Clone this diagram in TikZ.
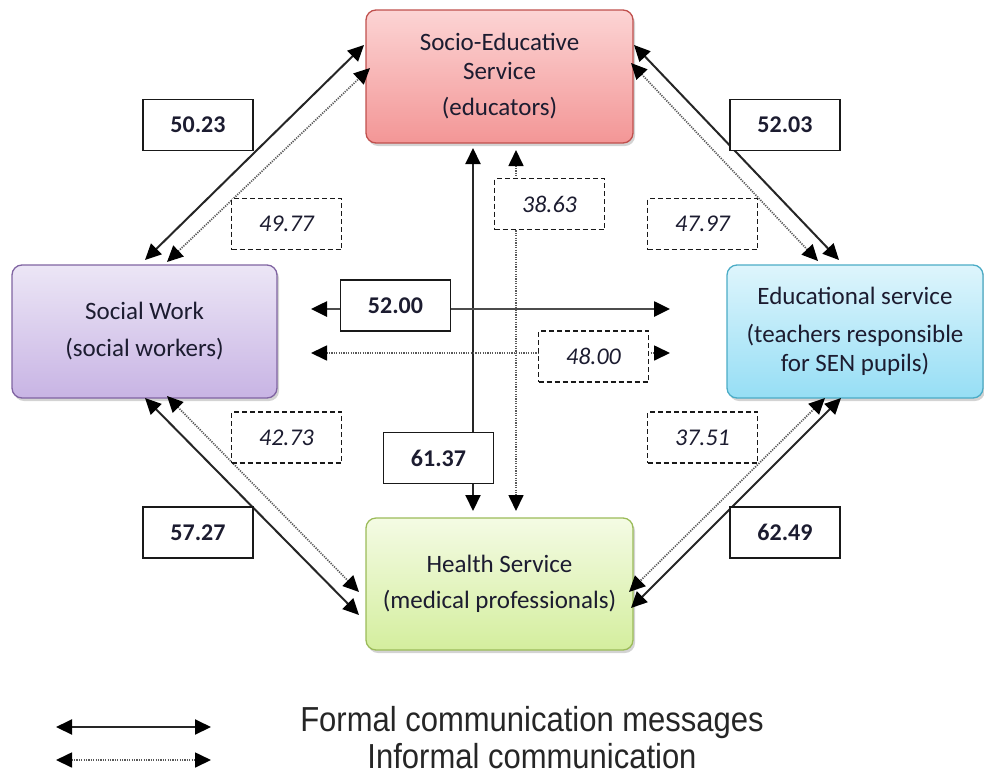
\documentclass[tikz,border=0pt]{standalone}
\usepackage{fontspec}
\setmainfont{Carlito}
\newfontfamily\arialfont{Liberation Sans}
\usetikzlibrary{arrows.meta,shadows}
\definecolor{txt}{RGB}{28,28,48}
\tikzset{
  svc/.style={rounded corners=10pt, line width=1.3pt, minimum width=267pt, minimum height=133pt,
    inner sep=0pt, align=center, text=txt, font=\fontsize{25}{29}\selectfont,
    drop shadow={opacity=0.35, shadow xshift=2pt, shadow yshift=-3pt}},
  lab/.style={draw=black!90, line width=1.3pt, fill=white, minimum width=110pt, minimum height=51pt,
    inner sep=0pt, text=txt, font=\fontsize{24}{28}\selectfont\bfseries},
  dlab/.style={lab, dash pattern=on 5pt off 3pt, font=\fontsize{24}{28}\selectfont\itshape},
  formal/.style={{Triangle[length=16pt,width=15pt,color=black]}-{Triangle[length=16pt,width=15pt,color=black]}, line width=2pt, draw=black!85},
  informal/.style={{Triangle[length=16pt,width=15pt,color=black]}-{Triangle[length=16pt,width=15pt,color=black]}, line width=1.7pt, draw=black!65, dash pattern=on 1.2pt off 1.2pt}
}
\begin{document}
\begin{tikzpicture}[x=1pt,y=-1pt]
\useasboundingbox (0,0) rectangle (984,774);

% service boxes
\node[svc, draw={rgb,255:red,192;green,80;blue,77}, top color={rgb,255:red,252;green,212;blue,212}, bottom color={rgb,255:red,243;green,150;blue,150}] (se) at (499.5,76.5)
  {Socio-Educative\\Service\\[7pt](educators)};
\node[svc, minimum width=265pt, draw={rgb,255:red,128;green,100;blue,162}, top color={rgb,255:red,236;green,230;blue,246}, bottom color={rgb,255:red,200;green,180;blue,228}] (sw) at (144.5,331.5)
  {Social Work\\[8pt](social workers)};
\node[svc, minimum width=256pt, draw={rgb,255:red,75;green,172;blue,198}, top color={rgb,255:red,222;green,245;blue,252}, bottom color={rgb,255:red,150;green,222;blue,245}] (ed) at (855,331.5)
  {Educational service\\[9pt](teachers responsible\\for SEN pupils)};
\node[svc, minimum height=132pt, draw={rgb,255:red,155;green,187;blue,89}, top color={rgb,255:red,244;green,251;blue,228}, bottom color={rgb,255:red,212;green,238;blue,158}] (hs) at (499.5,584)
  {Health Service\\[7pt](medical professionals)};

% connector end points
\coordinate (a1) at (145,260); \coordinate (a2) at (364,45);
\coordinate (b1) at (167,262); \coordinate (b2) at (370,68);
\coordinate (c1) at (634,45); \coordinate (c2) at (839,260);
\coordinate (d1) at (631,63); \coordinate (d2) at (818,261);
\coordinate (e1) at (145,398); \coordinate (e2) at (359,615);
\coordinate (f1) at (167,396); \coordinate (f2) at (359,592);
\coordinate (g1) at (841,398); \coordinate (g2) at (631,608);
\coordinate (h1) at (825,398); \coordinate (h2) at (629,592);
\coordinate (v1) at (473,148); \coordinate (v2) at (473,511);
\coordinate (w1) at (516,150); \coordinate (w2) at (516,511);
\coordinate (p1) at (311,309); \coordinate (p2) at (670,309);
\coordinate (q1) at (311,353); \coordinate (q2) at (670,353);

\draw[formal] (a1) -- (a2);
\draw[informal] (b1) -- (b2);
\draw[formal] (c1) -- (c2);
\draw[informal] (d1) -- (d2);
\draw[formal] (e1) -- (e2);
\draw[informal] (f1) -- (f2);
\draw[formal] (g1) -- (g2);
\draw[informal] (h1) -- (h2);
\draw[formal] (v1) -- (v2);
\draw[informal] (w1) -- (w2);
\draw[formal, draw=black!70, line width=2.6pt] (p1) -- (p2);
\draw[informal] (q1) -- (q2);

% value labels
\node[lab]  (l1)  at (198,125)    {50.23};
\node[dlab] (l2)  at (286.5,224)  {49.77};
\node[lab]  (l3)  at (785,125)    {52.03};
\node[dlab] (l4)  at (702.5,224)  {47.97};
\node[dlab] (l5)  at (286.5,437.5){42.73};
\node[lab]  (l6)  at (198,532.5)  {57.27};
\node[dlab] (l7)  at (702.5,437.5){37.51};
\node[lab]  (l8)  at (785,532.5)  {62.49};
\node[lab]  (l9)  at (395.5,305.5){52.00};
\node[dlab] (l10) at (593.5,356.5){48.00};
\node[lab]  (l11) at (438.5,458)  {61.37};
\node[dlab] (l12) at (549.5,204)  {38.63};

% legend
\coordinate (k1) at (56,727); \coordinate (k2) at (211,727);
\coordinate (m1) at (56,760); \coordinate (m2) at (211,760);
\draw[formal] (k1) -- (k2);
\draw[informal] (m1) -- (m2);
\node[font=\arialfont\fontsize{31}{34}\selectfont, text=black!85, inner sep=0pt, yscale=1.12] (t1) at (532,723) {Formal communication messages};
\node[font=\arialfont\fontsize{31}{34}\selectfont, text=black!85, inner sep=0pt, yscale=1.12] (t2) at (532,756) {Informal communication};
\end{tikzpicture}
\end{document}
